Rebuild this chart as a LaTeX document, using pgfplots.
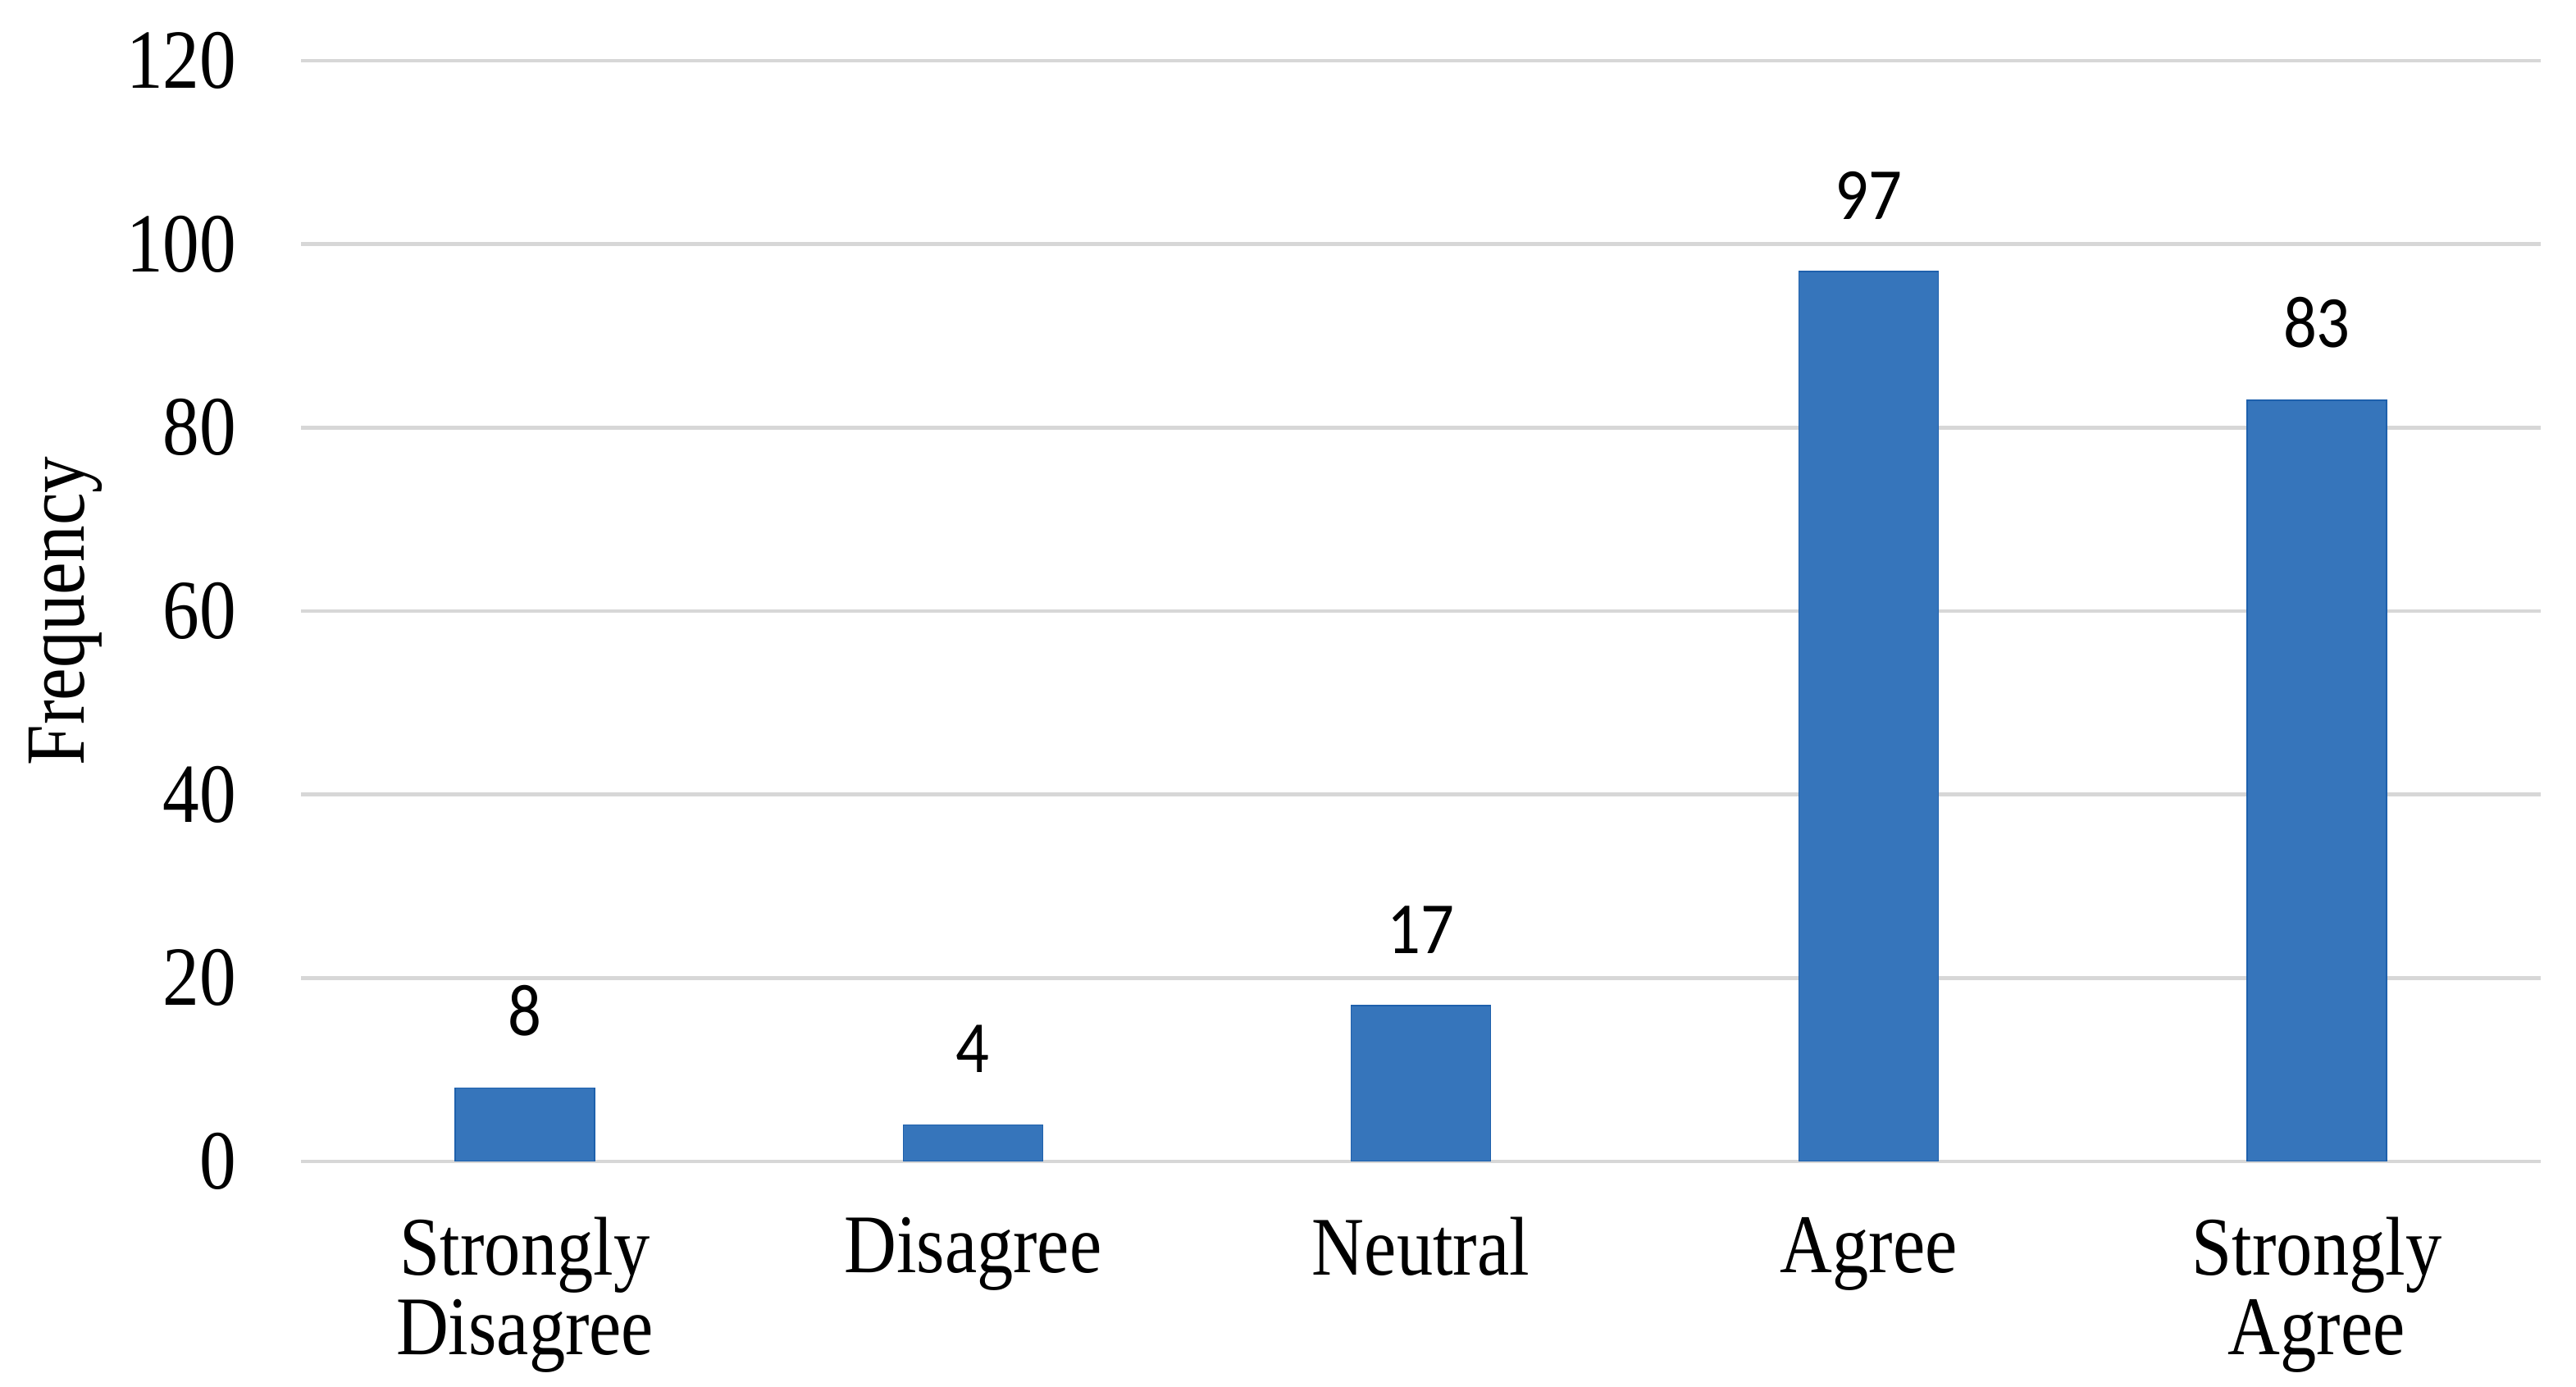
\documentclass[border=0pt]{standalone}
\usepackage{fontspec}
\setmainfont{Liberation Serif}[FakeStretch=0.87]
\newfontfamily\calib{Carlito}[FakeStretch=0.9]
\usepackage{pgfplots}
\pgfplotsset{compat=1.18}
\definecolor{barfill}{RGB}{54,117,187}
\definecolor{baredge}{RGB}{30,96,172}
\definecolor{gridc}{RGB}{215,215,215}
\begin{document}
\begin{tikzpicture}
\begin{axis}[
  at={(36.7bp,27.5bp)}, anchor=south west,
  scale only axis, width=273.1bp, height=134.2bp,
  ybar, bar width=17bp,
  xmin=-0.5, xmax=4.5, ymin=0, ymax=120,
  ytick={0,20,...,120},
  xtick={0,1,2,3,4},
  xticklabels={Strongly\\Disagree, Disagree, Neutral, Agree, Strongly\\Agree},
  /pgf/number format/assume math mode=true,
  axis line style={draw=none},
  major tick length=0pt,
  ymajorgrids, grid style={draw=gridc, line width=0.5bp},
  xticklabel style={font=\fontsize{10.2}{9.7}\selectfont, align=center, anchor=north, inner sep=0pt, yshift=-6.6bp},
  yticklabel style={font=\fontsize{10.3}{12}\selectfont, anchor=east, inner sep=0pt, xshift=-7.7bp},
  ylabel={Frequency},
  ylabel style={font=\fontsize{10.3}{12}\selectfont, at={(axis description cs:-0.1051,0.5)}, anchor=center},
  nodes near coords={\calib\fontsize{9}{10}\selectfont\pgfmathprintnumber{\pgfplotspointmeta}},
  every node near coord/.append style={anchor=south, inner sep=0pt, yshift=6.3bp, text=black},
]
\addplot[fill=barfill, draw=baredge, line width=0.15bp] coordinates {(0,8) (1,4) (2,17) (3,97) (4,83)};
\end{axis}
\pgfresetboundingbox
\path (0,0) rectangle (314.1bp,169.1bp);
\end{tikzpicture}
\end{document}
